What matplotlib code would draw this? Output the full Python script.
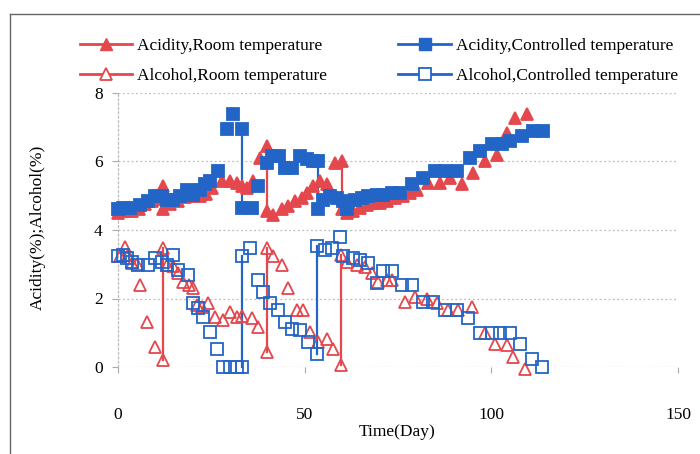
import matplotlib
matplotlib.use("Agg")
import matplotlib.pyplot as plt
from matplotlib.lines import Line2D

plt.rcParams['font.family'] = ['Liberation Serif', 'DejaVu Serif']

# ===== DATOS =====
# Acidez, temperatura ambiente
dia_ac_amb = [0.1, 2.0, 3.8, 5.5, 7.2, 9.0, 10.6, 12.1, 12.1, 14.0, 16.0, 18.0, 20.0, 22.0,
              23.5, 25.1, 27.8, 30.0, 31.8, 33.3, 34.5, 36.2, 38.0, 39.8, 39.8, 41.6, 43.9,
              45.6, 47.4, 49.2, 50.5, 52.3, 54.1, 55.9, 58.1, 60.1, 60.1, 61.3, 63.0, 64.8,
              66.6, 68.4, 70.2, 72.0, 74.2, 76.4, 78.2, 80.0, 83.1, 86.3, 88.9, 92.1, 95.2,
              98.3, 101.4, 104.1, 106.3, 109.5]
ac_amb = [4.5, 4.55, 4.55, 4.6, 4.75, 4.85, 4.9, 5.28, 4.6, 4.75, 4.85, 4.95, 5.0, 5.0,
          5.05, 5.23, 5.42, 5.42, 5.37, 5.28, 5.23, 5.42, 6.11, 6.45, 4.55, 4.45, 4.6,
          4.69, 4.84, 4.94, 5.08, 5.28, 5.42, 5.33, 5.96, 6.01, 4.6, 4.5, 4.55, 4.64,
          4.74, 4.79, 4.8, 4.84, 4.94, 4.99, 5.08, 5.18, 5.37, 5.37, 5.52, 5.33, 5.67,
          6.01, 6.2, 6.84, 7.28, 7.38]

# Acidez, temperatura controlada
dia_ac_con = [0.1, 1.4, 3.2, 5.9, 8.1, 9.9, 11.7, 13.0, 14.8, 16.6, 18.4, 20.2, 22.0, 23.3,
              24.6, 26.9, 29.1, 30.9, 33.3, 33.3, 35.8, 37.6, 39.8, 41.2, 43.0, 44.7, 46.5,
              48.8, 50.5, 52.3, 53.7, 53.7, 55.0, 56.8, 58.6, 60.4, 61.3, 63.5, 65.3, 67.0,
              69.3, 71.1, 73.3, 75.5, 78.7, 81.8, 84.9, 87.6, 90.7, 94.3, 97.0, 100.1, 102.8,
              105.0, 108.1, 111.2, 113.9]
ac_con = [4.6, 4.64, 4.64, 4.74, 4.84, 4.99, 4.99, 4.89, 4.89, 4.99, 5.18, 5.03, 5.18, 5.33,
          5.42, 5.72, 6.94, 7.38, 6.94, 4.64, 4.64, 5.28, 5.96, 6.16, 6.16, 5.82, 5.82,
          6.16, 6.06, 6.01, 6.01, 4.6, 4.89, 4.99, 4.94, 4.84, 4.6, 4.89, 4.94, 4.99,
          5.03, 5.03, 5.08, 5.08, 5.33, 5.52, 5.72, 5.72, 5.72, 6.11, 6.3, 6.5, 6.5,
          6.6, 6.74, 6.89, 6.89]

# Alcohol, temperatura ambiente
dia_al_amb = [0.5, 1.9, 2.8, 3.7, 5.0, 5.9, 7.7, 9.9, 12.1, 12.1, 13.0, 14.8, 16.2, 17.5,
              19.0, 20.2, 21.1, 22.5, 24.2, 26.0, 28.2, 30.0, 31.8, 33.3, 35.8, 37.6, 39.8,
              39.8, 41.6, 43.9, 45.6, 47.9, 49.6, 51.4, 53.7, 55.9, 57.7, 59.7, 59.7, 61.3,
              63.9, 66.2, 68.0, 69.7, 72.0, 73.3, 76.9, 79.6, 82.7, 85.4, 88.5, 91.2, 94.7,
              98.3, 101.0, 104.1, 105.9, 109.0]
al_amb = [3.25, 3.5, 3.27, 3.03, 3.0, 2.4, 1.32, 0.59, 0.2, 3.47, 2.98, 2.95, 2.74, 2.49,
          2.4, 2.3, 1.81, 1.75, 1.86, 1.47, 1.37, 1.61, 1.47, 1.5, 1.42, 1.17, 0.44,
          3.47, 3.23, 2.98, 2.3, 1.66, 1.66, 1.03, 0.73, 0.83, 0.54, 0.05, 3.27, 3.08,
          2.98, 2.93, 2.74, 2.49, 2.54, 2.54, 1.91, 2.05, 2.0, 1.86, 1.66, 1.66, 1.76,
          0.98, 0.68, 0.63, 0.29, -0.05]

# Alcohol, temperatura controlada
dia_al_con = [0.1, 1.4, 2.3, 3.7, 5.4, 8.1, 9.9, 11.7, 13.0, 14.8, 16.2, 18.8, 20.2, 21.5,
              22.9, 24.6, 26.4, 28.2, 30.0, 31.8, 33.3, 33.3, 35.4, 37.6, 38.9, 40.7, 42.9,
              44.7, 46.5, 48.8, 51.0, 53.3, 53.3, 55.4, 57.2, 59.5, 60.4, 63.0, 64.8, 67.0,
              69.3, 71.1, 73.3, 76.0, 78.7, 81.8, 84.5, 87.6, 90.7, 93.8, 97.0, 100.1, 102.3,
              105.0, 107.7, 110.8, 113.5]
al_con = [3.23, 3.27, 3.18, 3.08, 2.98, 2.98, 3.18, 3.08, 2.98, 3.27, 2.83, 2.69, 1.86, 1.71,
          1.47, 1.03, 0.54, 0.0, 0.0, 0.0, 0.0, 3.23, 3.47, 2.54, 2.2, 1.86, 1.66,
          1.32, 1.12, 1.08, 0.73, 0.39, 3.52, 3.42, 3.47, 3.81, 3.23, 3.18, 3.13, 3.03,
          2.44, 2.79, 2.79, 2.4, 2.4, 1.91, 1.91, 1.66, 1.66, 1.42, 0.98, 0.98, 0.98,
          0.98, 0.68, 0.24, 0.0]

etiquetas = ["Acidity,Room temperature", "Alcohol,Room temperature",
             "Acidity,Controlled temperature", "Alcohol,Controlled temperature"]

ROJO = '#e4474c'
AZUL = '#2365c6'


# ===== LÍNEAS DE RECARGA (mismo día, dos valores) =====
def lineas_recarga(ax, dias, vals, color):
    for i in range(len(dias) - 1):
        if dias[i] == dias[i + 1]:
            ax.plot([dias[i], dias[i + 1]], [vals[i], vals[i + 1]],
                    color=color, lw=1.6, zorder=2, clip_on=False)


# ===== FIGURA =====
fig = plt.figure(figsize=(7.0, 4.54), dpi=100)
ax = fig.add_axes([118/700, 1 - 367/454, 560/700, 274/454])

series = [
    (dia_ac_amb, ac_amb, ROJO, '^', ROJO, 8.5),
    (dia_ac_con, ac_con, AZUL, 's', AZUL, 8.0),
    (dia_al_amb, al_amb, ROJO, '^', 'none', 8.5),
    (dia_al_con, al_con, AZUL, 's', 'none', 8.0),
]
for dias, vals, color, marca, relleno, tam in series:
    lineas_recarga(ax, dias, vals, color)
    ax.plot(dias, vals, ls='none', marker=marca, ms=tam, mfc=relleno,
            mec=color, mew=1.3, zorder=3, clip_on=False)

ax.set_xlim(0, 150)
ax.set_ylim(0, 8)
ax.set_xticks([0, 50, 100, 150])
ax.set_yticks([0, 2, 4, 6, 8])
ax.grid(axis='y', linestyle=(0, (1.5, 2)), color='#bdbdbd', lw=0.9)
for lado in ['top', 'right', 'bottom']:
    ax.spines[lado].set_visible(False)
ax.spines['left'].set_linestyle((0, (1.5, 2)))
ax.spines['left'].set_color('#bdbdbd')
ax.spines['left'].set_linewidth(0.9)
ax.tick_params(axis='x', length=4, color='#aaaaaa', pad=25, labelsize=12.5)
ax.tick_params(axis='y', length=4, color='#aaaaaa', pad=7, labelsize=12.5)

fig.text(397/700, 1 - 432/454, "Time(Day)", ha='center', va='center', fontsize=12.5)
fig.text(38/700, 1 - 227/454, "Acidity(%);Alcohol(%)", ha='center', va='center',
         rotation=90, fontsize=12.5)

# ===== LEYENDA =====
manijas = [
    Line2D([], [], color=ROJO, lw=2, marker='^', ms=9, mfc=ROJO, mec=ROJO),
    Line2D([], [], color=ROJO, lw=2, marker='^', ms=9, mfc='white', mec=ROJO, mew=1.3),
    Line2D([], [], color=AZUL, lw=2, marker='s', ms=8, mfc=AZUL, mec=AZUL),
    Line2D([], [], color=AZUL, lw=2, marker='s', ms=8, mfc='white', mec=AZUL, mew=1.3),
]
fig.legend(manijas, etiquetas, loc='upper left', bbox_to_anchor=(80/700, 1 - 38/454),
           ncol=2, frameon=False, borderpad=0, borderaxespad=0, handlelength=3.0,
           handletextpad=0.3, columnspacing=4.1, labelspacing=0.8, fontsize=12.5)

# marco exterior
fig.add_artist(Line2D([10/700, 1.0], [1 - 14/454, 1 - 14/454], color='#666666', lw=1.0))
fig.add_artist(Line2D([10/700, 10/700], [0.0, 1 - 14/454], color='#666666', lw=1.0))

fig.savefig("out.png", dpi=100, facecolor='white')
